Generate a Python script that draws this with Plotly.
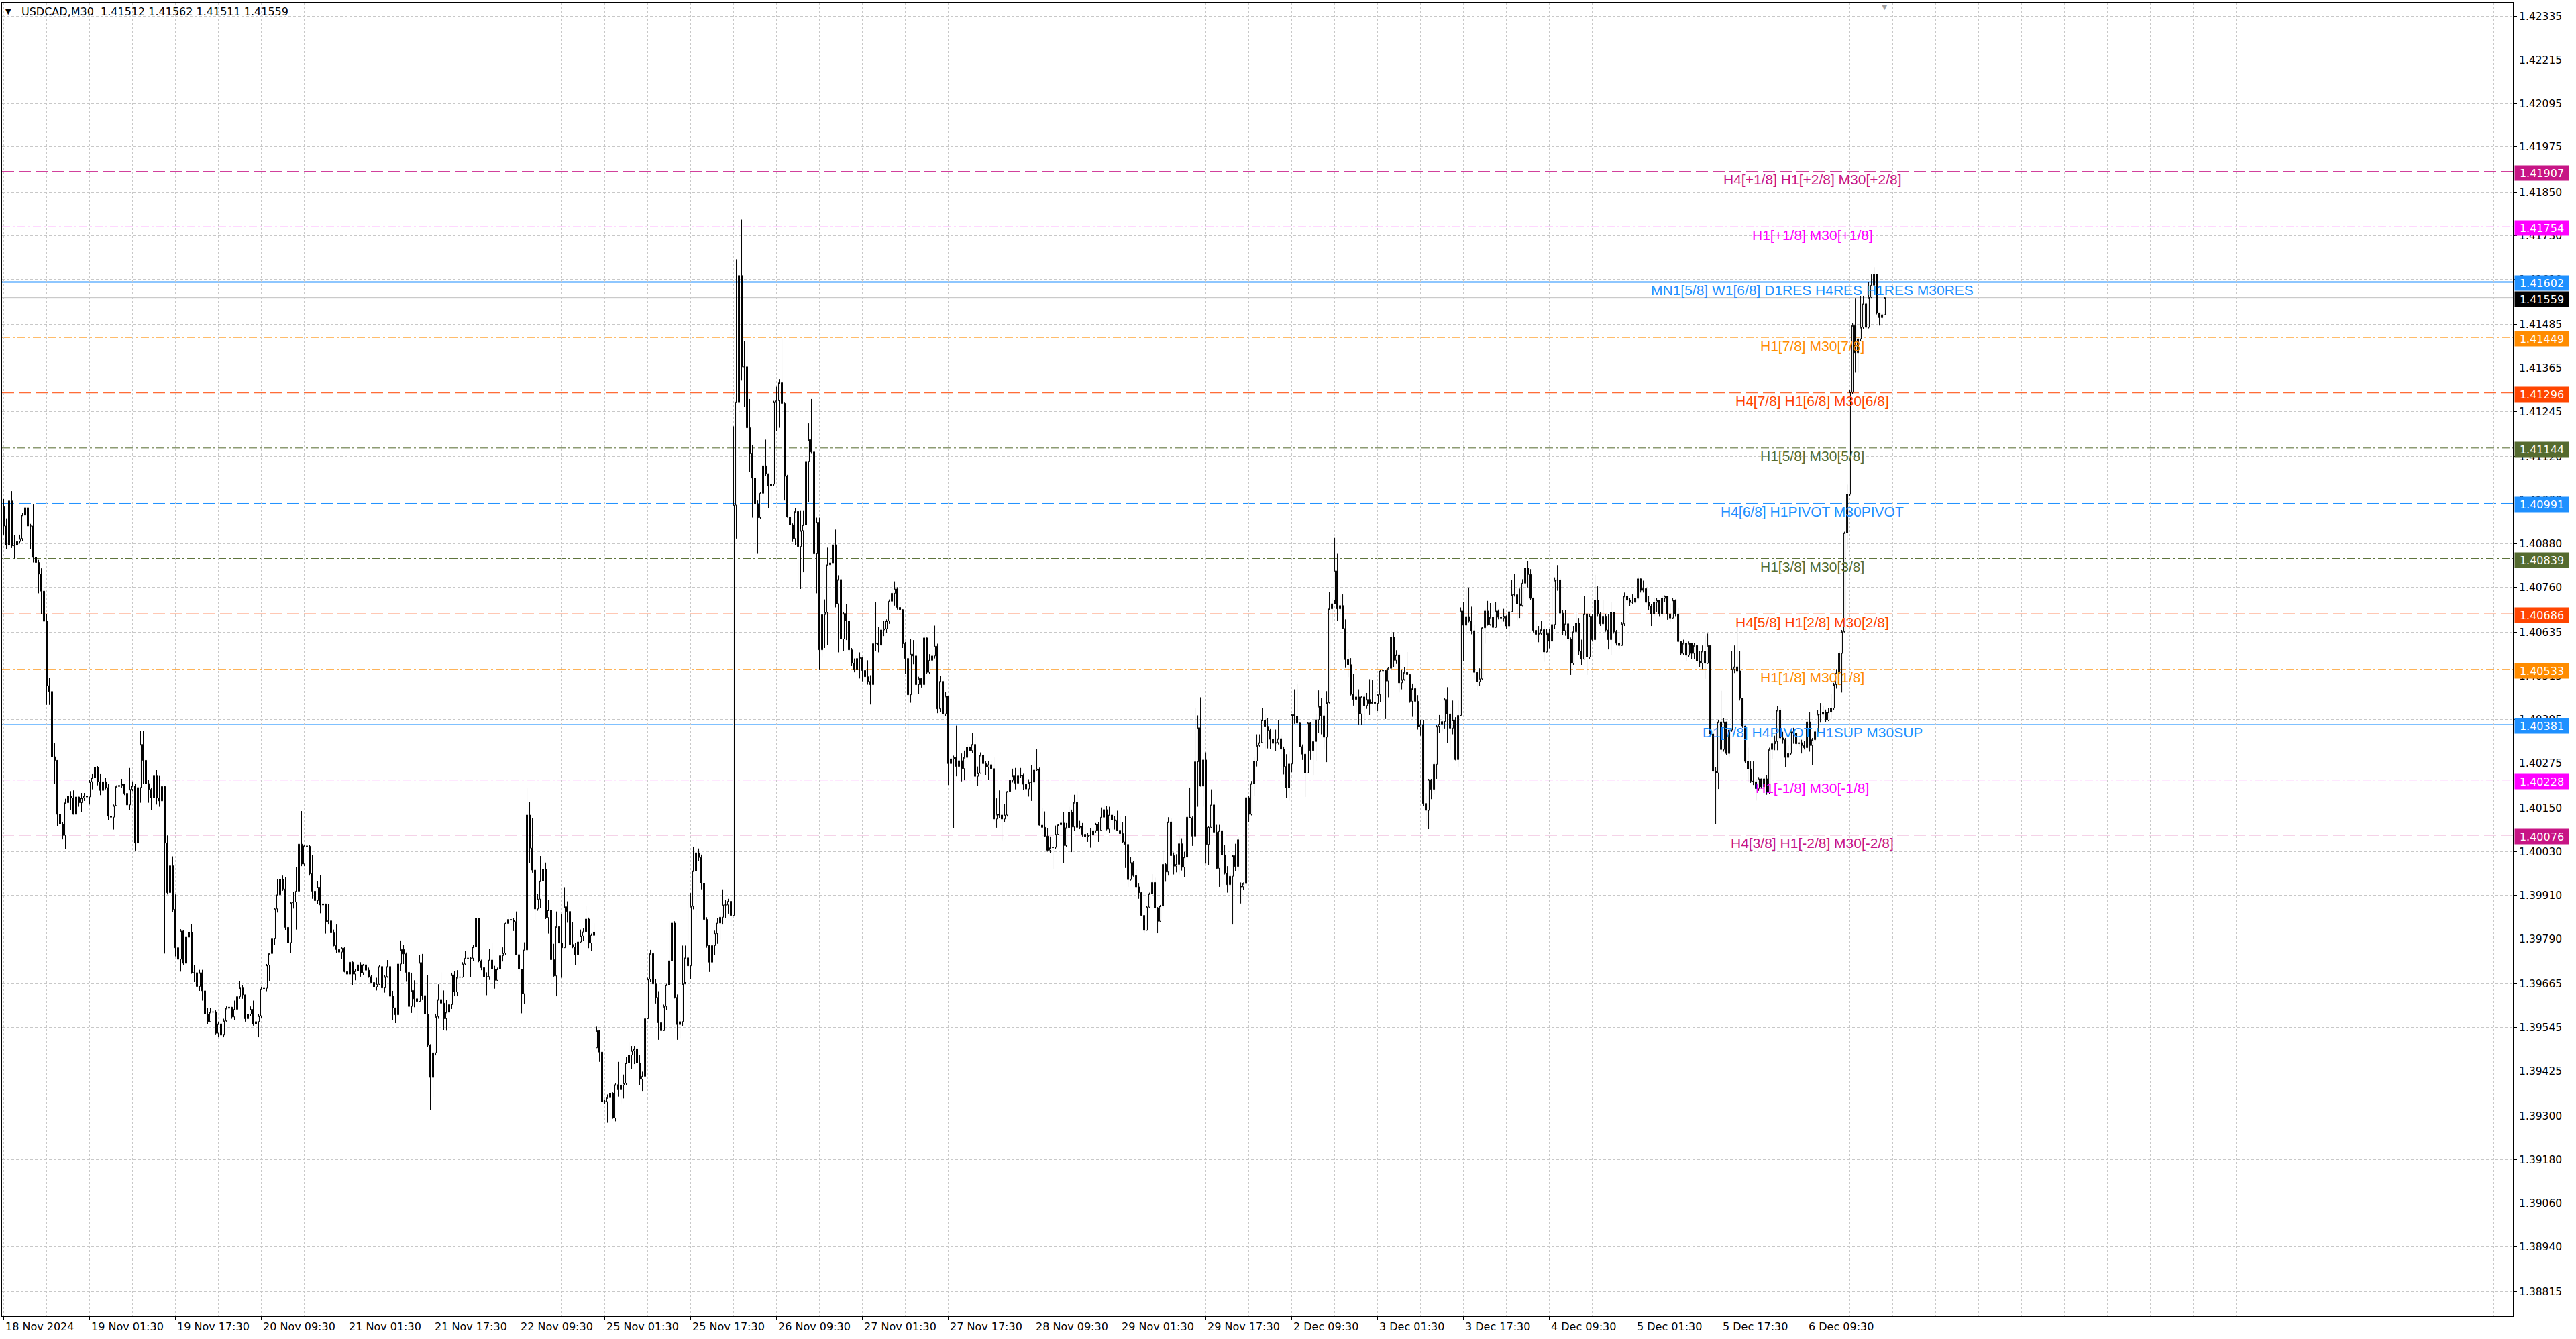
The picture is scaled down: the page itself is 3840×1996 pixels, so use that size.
import plotly.graph_objects as go

# USDCAD M30 candles, prices kept as points (1e-5) above BASE
BASE = 1.38
first_open = 2982
# monday opens after the weekend gaps
gap_opens = {221: 1489, 461: 1935}

closes = [
    2929, 2876, 2998, 2874, 2876, 2886, 2894, 2959, 2979, 2929, 2929, 2842, 2828, 2796, 2749, 2666,
    2488, 2472, 2292, 2282, 2133, 2106, 2075, 2165, 2183, 2178, 2133, 2181, 2165, 2178, 2183, 2181,
    2223, 2234, 2263, 2223, 2199, 2223, 2207, 2128, 2125, 2157, 2210, 2213, 2217, 2191, 2159, 2202,
    2211, 2054, 2207, 2326, 2282, 2218, 2202, 2179, 2239, 2178, 2170, 2210, 2054, 1917, 1991, 1871,
    1765, 1733, 1811, 1722, 1794, 1807, 1696, 1696, 1658, 1696, 1646, 1582, 1561, 1587, 1588, 1529,
    1555, 1524, 1563, 1598, 1601, 1574, 1595, 1630, 1654, 1635, 1569, 1582, 1595, 1555, 1561, 1577,
    1651, 1653, 1717, 1749, 1791, 1872, 1911, 1954, 1927, 1821, 1779, 1889, 1891, 1921, 2051, 1996,
    2046, 2045, 1969, 1921, 1895, 1932, 1883, 1886, 1837, 1839, 1806, 1771, 1760, 1753, 1764, 1699,
    1692, 1725, 1692, 1701, 1718, 1696, 1718, 1703, 1685, 1669, 1657, 1664, 1713, 1654, 1685, 1713,
    1631, 1599, 1580, 1720, 1760, 1748, 1697, 1603, 1647, 1624, 1617, 1724, 1633, 1582, 1496, 1407,
    1475, 1575, 1622, 1612, 1569, 1587, 1608, 1690, 1643, 1683, 1684, 1720, 1736, 1736, 1736, 1767,
    1846, 1729, 1710, 1685, 1685, 1731, 1706, 1675, 1706, 1743, 1750, 1832, 1843, 1841, 1837, 1746,
    1706, 1638, 1759, 2131, 2040, 1979, 1872, 1899, 1949, 1981, 1848, 1869, 1732, 1687, 1823, 1778,
    1765, 1878, 1865, 1774, 1767, 1746, 1781, 1797, 1809, 1844, 1778, 1799, 1808, 1536, 1477, 1340,
    1340, 1351, 1363, 1295, 1387, 1373, 1386, 1391, 1447, 1469, 1481, 1486, 1447, 1402, 1410, 1569,
    1678, 1749, 1665, 1628, 1558, 1536, 1603, 1662, 1729, 1833, 1628, 1553, 1561, 1665, 1737, 1715,
    1879, 1977, 2027, 2014, 1943, 1843, 1771, 1725, 1771, 1804, 1833, 1849, 1883, 1883, 1893, 1854,
    2986, 3271, 3620, 3368, 3368, 3200, 3128, 3061, 2989, 2952, 3019, 3095, 3073, 3039, 3044, 3271,
    3274, 3324, 3267, 3066, 2954, 2932, 2894, 2969, 2872, 2916, 2932, 3107, 3167, 3133, 2852, 2939,
    2587, 2684, 2690, 2822, 2827, 2877, 2714, 2781, 2617, 2687, 2667, 2587, 2550, 2533, 2563, 2565,
    2530, 2513, 2500, 2491, 2604, 2606, 2600, 2642, 2645, 2667, 2721, 2743, 2755, 2704, 2698, 2604,
    2563, 2463, 2575, 2570, 2491, 2508, 2491, 2620, 2525, 2558, 2570, 2597, 2424, 2500, 2410, 2459,
    2273, 2286, 2290, 2265, 2281, 2259, 2290, 2318, 2309, 2326, 2238, 2247, 2296, 2273, 2264, 2270,
    2259, 2120, 2133, 2131, 2120, 2131, 2196, 2227, 2239, 2219, 2239, 2240, 2216, 2203, 2221, 2222,
    2255, 2258, 2103, 2097, 2073, 2034, 2041, 2042, 2078, 2104, 2109, 2047, 2096, 2139, 2098, 2166,
    2097, 2100, 2078, 2072, 2075, 2076, 2088, 2106, 2089, 2125, 2146, 2092, 2131, 2118, 2115, 2089,
    2080, 2057, 2050, 1953, 2000, 1964, 1933, 1917, 1854, 1813, 1877, 1914, 1945, 1875, 1838, 1880,
    1995, 1974, 2112, 2019, 1990, 1995, 2052, 1987, 2015, 2125, 2123, 2073, 2278, 2372, 2211, 2283,
    2050, 2097, 2159, 2084, 1984, 2088, 2021, 1970, 1939, 1962, 2019, 1989, 2063, 1933, 1942, 2179,
    2133, 2218, 2280, 2323, 2331, 2393, 2376, 2365, 2340, 2329, 2331, 2342, 2313, 2265, 2206, 2272,
    2408, 2404, 2385, 2320, 2299, 2247, 2385, 2309, 2334, 2394, 2431, 2405, 2346, 2441, 2700, 2714,
    2805, 2700, 2709, 2646, 2560, 2546, 2464, 2450, 2457, 2410, 2457, 2433, 2450, 2439, 2443, 2439,
    2463, 2529, 2530, 2501, 2536, 2622, 2558, 2573, 2496, 2505, 2525, 2519, 2445, 2480, 2445, 2375,
    2381, 2163, 2144, 2229, 2202, 2271, 2376, 2382, 2389, 2450, 2410, 2371, 2393, 2284, 2406, 2694,
    2655, 2679, 2666, 2640, 2525, 2499, 2507, 2648, 2694, 2657, 2677, 2649, 2694, 2677, 2675, 2680,
    2653, 2692, 2739, 2739, 2714, 2709, 2771, 2813, 2795, 2729, 2641, 2630, 2632, 2643, 2581, 2632,
    2611, 2657, 2779, 2780, 2688, 2640, 2659, 2617, 2550, 2637, 2661, 2583, 2561, 2686, 2567, 2680,
    2615, 2724, 2686, 2659, 2680, 2642, 2615, 2691, 2637, 2605, 2599, 2659, 2735, 2724, 2718, 2718,
    2729, 2783, 2751, 2756, 2718, 2707, 2686, 2718, 2724, 2686, 2729, 2735, 2686, 2675, 2724, 2686,
    2610, 2577, 2605, 2572, 2605, 2577, 2599, 2556, 2550, 2583, 2550, 2599, 2355, 2252, 2247, 2388,
    2312, 2388, 2301, 2366, 2534, 2540, 2529, 2453, 2377, 2279, 2258, 2225, 2223, 2204, 2231, 2209,
    2231, 2193, 2312, 2328, 2334, 2420, 2344, 2339, 2290, 2301, 2361, 2357, 2328, 2331, 2323, 2317,
    2388, 2323, 2339, 2361, 2409, 2409, 2415, 2393, 2415, 2426, 2491, 2523, 2577, 2637, 2910, 3016,
    3298, 3482, 3407, 3445, 3477, 3542, 3477, 3560, 3593, 3623, 3517, 3504, 3512, 3559,
]

highs = [
    3003, 2950, 3025, 3025, 2903, 2895, 2905, 2965, 3014, 2988, 2935, 2988, 2865, 2835, 2812, 2749,
    2685, 2509, 2483, 2329, 2282, 2144, 2112, 2176, 2234, 2197, 2199, 2186, 2181, 2192, 2192, 2218,
    2229, 2244, 2292, 2266, 2244, 2239, 2234, 2218, 2154, 2160, 2213, 2234, 2231, 2218, 2207, 2261,
    2224, 2218, 2234, 2364, 2364, 2308, 2229, 2207, 2266, 2255, 2239, 2266, 2207, 2075, 1996, 2017,
    1912, 1768, 1816, 1813, 1802, 1857, 1831, 1717, 1707, 1704, 1704, 1639, 1598, 1598, 1592, 1592,
    1561, 1561, 1569, 1603, 1629, 1601, 1619, 1635, 1672, 1662, 1635, 1598, 1603, 1619, 1571, 1582,
    1656, 1656, 1720, 1751, 1805, 1874, 1954, 2001, 1964, 1959, 1826, 1891, 1919, 1987, 2059, 2142,
    2049, 2123, 2049, 2021, 1927, 1948, 1965, 1911, 1886, 1886, 1858, 1815, 1829, 1760, 1766, 1766,
    1725, 1727, 1727, 1706, 1729, 1725, 1720, 1739, 1710, 1689, 1675, 1682, 1717, 1713, 1689, 1731,
    1725, 1646, 1599, 1724, 1785, 1773, 1752, 1710, 1696, 1675, 1647, 1745, 1748, 1640, 1689, 1499,
    1478, 1583, 1664, 1697, 1647, 1620, 1626, 1696, 1701, 1703, 1696, 1725, 1757, 1741, 1739, 1773,
    1848, 1846, 1732, 1711, 1697, 1762, 1778, 1715, 1710, 1760, 1766, 1834, 1860, 1853, 1846, 1865,
    1752, 1706, 1780, 2207, 2168, 2123, 1981, 1913, 2018, 1997, 2000, 1897, 1865, 1776, 1865, 1825,
    1857, 1932, 1893, 1865, 1836, 1778, 1802, 1815, 1818, 1881, 1848, 1804, 1832, 1547, 1538, 1482,
    1346, 1360, 1401, 1366, 1391, 1450, 1396, 1415, 1464, 1503, 1494, 1494, 1494, 1469, 1423, 1594,
    1682, 1759, 1754, 1678, 1645, 1578, 1608, 1665, 1838, 1838, 1838, 1636, 1578, 1771, 1771, 1913,
    1916, 2044, 2072, 2039, 2022, 1947, 1849, 1771, 1787, 1812, 1846, 1863, 1926, 1896, 1900, 1900,
    3204, 3665, 3631, 3774, 3438, 3442, 3279, 3153, 3078, 2999, 3023, 3100, 3167, 3073, 3083, 3274,
    3313, 3334, 3447, 3271, 3070, 2969, 2936, 2977, 2977, 2972, 2972, 3112, 3212, 3279, 3190, 2952,
    2952, 2805, 2726, 2869, 2838, 2882, 2919, 2793, 2793, 2692, 2714, 2676, 2592, 2563, 2570, 2580,
    2558, 2547, 2558, 2517, 2620, 2718, 2651, 2667, 2667, 2671, 2726, 2765, 2776, 2760, 2718, 2698,
    2609, 2575, 2617, 2614, 2604, 2513, 2508, 2625, 2617, 2575, 2587, 2654, 2604, 2515, 2505, 2470,
    2459, 2292, 2295, 2378, 2331, 2301, 2309, 2327, 2320, 2357, 2348, 2265, 2304, 2299, 2279, 2281,
    2281, 2290, 2177, 2199, 2172, 2162, 2197, 2230, 2259, 2261, 2259, 2261, 2245, 2234, 2230, 2269,
    2281, 2314, 2262, 2151, 2141, 2094, 2072, 2060, 2102, 2106, 2127, 2139, 2109, 2154, 2146, 2187,
    2197, 2115, 2109, 2097, 2082, 2094, 2094, 2109, 2111, 2152, 2156, 2156, 2154, 2128, 2128, 2143,
    2127, 2111, 2128, 2075, 2016, 2004, 1982, 1942, 1919, 1854, 1880, 1917, 1968, 1958, 1877, 1883,
    2034, 1998, 2125, 2122, 2028, 2023, 2075, 2067, 2030, 2127, 2207, 2127, 2426, 2406, 2456, 2284,
    2304, 2100, 2202, 2168, 2104, 2104, 2088, 2049, 1990, 1973, 2021, 2052, 2071, 1945, 1945, 2181,
    2184, 2225, 2290, 2354, 2354, 2426, 2410, 2398, 2370, 2367, 2367, 2394, 2351, 2320, 2299, 2307,
    2410, 2478, 2494, 2385, 2326, 2302, 2388, 2388, 2394, 2410, 2475, 2453, 2439, 2473, 2747, 2728,
    2896, 2852, 2737, 2740, 2671, 2589, 2564, 2521, 2472, 2478, 2459, 2465, 2468, 2506, 2503, 2472,
    2465, 2531, 2533, 2529, 2540, 2641, 2636, 2586, 2577, 2533, 2540, 2581, 2521, 2494, 2487, 2462,
    2394, 2394, 2184, 2231, 2231, 2278, 2379, 2407, 2405, 2453, 2484, 2428, 2447, 2401, 2447, 2704,
    2719, 2759, 2759, 2706, 2657, 2533, 2536, 2651, 2700, 2722, 2716, 2714, 2719, 2698, 2682, 2700,
    2682, 2694, 2780, 2797, 2753, 2756, 2782, 2814, 2832, 2810, 2731, 2666, 2653, 2666, 2653, 2645,
    2645, 2762, 2787, 2821, 2784, 2696, 2696, 2675, 2621, 2653, 2691, 2675, 2615, 2735, 2691, 2686,
    2686, 2794, 2762, 2691, 2724, 2686, 2686, 2718, 2691, 2642, 2632, 2664, 2745, 2740, 2729, 2740,
    2735, 2789, 2783, 2778, 2756, 2735, 2713, 2729, 2729, 2724, 2735, 2737, 2735, 2715, 2729, 2726,
    2702, 2610, 2615, 2610, 2610, 2605, 2605, 2599, 2583, 2599, 2626, 2632, 2599, 2372, 2263, 2393,
    2474, 2399, 2388, 2372, 2583, 2599, 2664, 2583, 2453, 2377, 2317, 2279, 2279, 2231, 2236, 2231,
    2236, 2241, 2317, 2334, 2350, 2431, 2426, 2361, 2344, 2323, 2366, 2372, 2357, 2342, 2339, 2336,
    2393, 2415, 2344, 2368, 2420, 2440, 2431, 2422, 2426, 2464, 2496, 2534, 2583, 2642, 2913, 3043,
    3304, 3488, 3558, 3450, 3564, 3564, 3547, 3602, 3623, 3643, 3621, 3517, 3515, 3562,
]

lows = [
    2905, 2866, 2870, 2868, 2839, 2870, 2880, 2888, 2955, 2892, 2865, 2828, 2780, 2743, 2685, 2600,
    2435, 2435, 2282, 2218, 2101, 2101, 2064, 2038, 2159, 2144, 2133, 2114, 2154, 2139, 2170, 2176,
    2160, 2202, 2229, 2213, 2186, 2160, 2202, 2117, 2107, 2091, 2155, 2199, 2207, 2186, 2139, 2144,
    2197, 2033, 2054, 2165, 2218, 2197, 2165, 2144, 2170, 2160, 2154, 2165, 1749, 1912, 1900, 1863,
    1741, 1683, 1699, 1717, 1696, 1789, 1693, 1670, 1646, 1646, 1619, 1561, 1555, 1561, 1582, 1524,
    1518, 1508, 1518, 1561, 1582, 1569, 1566, 1587, 1624, 1624, 1561, 1561, 1577, 1550, 1508, 1518,
    1571, 1624, 1645, 1672, 1730, 1773, 1862, 1900, 1922, 1813, 1762, 1751, 1873, 1815, 1912, 1990,
    1990, 2028, 1964, 1900, 1832, 1885, 1860, 1867, 1804, 1829, 1804, 1769, 1750, 1736, 1734, 1697,
    1683, 1671, 1661, 1675, 1675, 1685, 1689, 1699, 1682, 1666, 1650, 1647, 1661, 1634, 1641, 1682,
    1615, 1566, 1557, 1580, 1701, 1720, 1671, 1592, 1585, 1601, 1552, 1615, 1622, 1562, 1492, 1317,
    1352, 1468, 1569, 1576, 1538, 1536, 1550, 1596, 1631, 1631, 1671, 1682, 1718, 1706, 1683, 1729,
    1745, 1725, 1703, 1657, 1634, 1676, 1696, 1652, 1673, 1704, 1727, 1746, 1816, 1822, 1811, 1745,
    1694, 1584, 1610, 1759, 1998, 1972, 1841, 1867, 1874, 1923, 1844, 1804, 1673, 1685, 1631, 1722,
    1682, 1765, 1834, 1767, 1764, 1718, 1713, 1778, 1783, 1804, 1764, 1757, 1797, 1489, 1450, 1337,
    1334, 1282, 1303, 1293, 1286, 1354, 1335, 1349, 1386, 1427, 1430, 1444, 1436, 1385, 1368, 1402,
    1569, 1670, 1641, 1611, 1511, 1531, 1536, 1594, 1653, 1720, 1625, 1511, 1514, 1548, 1670, 1695,
    1678, 1871, 1846, 2005, 1926, 1833, 1765, 1698, 1729, 1745, 1776, 1787, 1829, 1846, 1859, 1821,
    1854, 2894, 3095, 3330, 3257, 3153, 3078, 2952, 2986, 2852, 2949, 2989, 3066, 2977, 2986, 3039,
    3190, 3200, 3237, 2999, 2952, 2882, 2885, 2877, 2765, 2755, 2801, 2919, 2994, 3128, 2843, 2743,
    2533, 2567, 2592, 2600, 2709, 2801, 2704, 2580, 2614, 2583, 2614, 2575, 2542, 2525, 2517, 2508,
    2500, 2496, 2491, 2436, 2486, 2583, 2580, 2597, 2625, 2634, 2659, 2714, 2709, 2698, 2676, 2592,
    2520, 2340, 2441, 2547, 2486, 2466, 2483, 2483, 2520, 2520, 2533, 2563, 2412, 2415, 2400, 2405,
    2214, 2240, 2094, 2238, 2245, 2224, 2227, 2284, 2307, 2302, 2234, 2211, 2245, 2264, 2242, 2228,
    2257, 2115, 2096, 2122, 2061, 2112, 2127, 2195, 2221, 2202, 2218, 2233, 2201, 2202, 2182, 2170,
    2214, 2253, 2102, 2080, 2071, 2030, 2027, 1982, 2038, 2077, 2097, 1998, 2044, 2092, 2029, 2088,
    2089, 2092, 2072, 2067, 2057, 2041, 2073, 2083, 2057, 2089, 2122, 2089, 2081, 2091, 2091, 2088,
    2060, 2055, 1985, 1933, 1950, 1961, 1931, 1900, 1852, 1805, 1812, 1874, 1910, 1871, 1805, 1836,
    1875, 1947, 1964, 1992, 1967, 1973, 1967, 1978, 1959, 2013, 2122, 2046, 2073, 2154, 2210, 2154,
    1997, 1993, 2096, 2080, 1984, 1933, 2003, 1967, 1917, 1925, 1829, 1976, 1976, 1887, 1925, 1935,
    2112, 2130, 2184, 2265, 2320, 2329, 2314, 2315, 2314, 2326, 2308, 2326, 2255, 2243, 2179, 2171,
    2249, 2383, 2379, 2319, 2283, 2181, 2246, 2283, 2240, 2280, 2357, 2354, 2314, 2277, 2439, 2663,
    2725, 2666, 2682, 2645, 2537, 2512, 2461, 2433, 2416, 2381, 2381, 2382, 2424, 2407, 2438, 2419,
    2418, 2443, 2444, 2396, 2456, 2530, 2540, 2548, 2469, 2478, 2502, 2518, 2441, 2402, 2404, 2367,
    2350, 2155, 2101, 2092, 2175, 2190, 2231, 2357, 2362, 2370, 2330, 2311, 2354, 2282, 2263, 2406,
    2555, 2629, 2663, 2630, 2506, 2476, 2487, 2503, 2604, 2654, 2654, 2643, 2651, 2671, 2663, 2665,
    2645, 2614, 2691, 2734, 2669, 2675, 2706, 2764, 2759, 2725, 2635, 2617, 2608, 2629, 2554, 2580,
    2591, 2611, 2645, 2750, 2648, 2629, 2626, 2611, 2518, 2545, 2615, 2572, 2545, 2561, 2518, 2561,
    2610, 2613, 2680, 2653, 2653, 2637, 2588, 2572, 2632, 2599, 2588, 2599, 2653, 2713, 2707, 2713,
    2715, 2724, 2745, 2745, 2713, 2697, 2653, 2680, 2691, 2680, 2680, 2718, 2670, 2664, 2672, 2680,
    2605, 2572, 2572, 2556, 2567, 2561, 2561, 2550, 2540, 2534, 2507, 2548, 2350, 2247, 2106, 2203,
    2301, 2306, 2296, 2290, 2361, 2523, 2523, 2447, 2372, 2274, 2223, 2220, 2214, 2171, 2198, 2204,
    2193, 2187, 2190, 2285, 2310, 2310, 2339, 2328, 2263, 2290, 2296, 2328, 2323, 2320, 2301, 2312,
    2314, 2306, 2269, 2334, 2355, 2386, 2399, 2388, 2390, 2396, 2420, 2480, 2487, 2469, 2635, 2865,
    3011, 3293, 3352, 3352, 3439, 3472, 3472, 3474, 3558, 3585, 3513, 3482, 3499, 3511,
]

# time axis labels, one every 32 bars (16 hours)
x_labels = [
    "18 Nov 2024", "19 Nov 01:30", "19 Nov 17:30", "20 Nov 09:30", "21 Nov 01:30", "21 Nov 17:30",
    "22 Nov 09:30", "25 Nov 01:30", "25 Nov 17:30", "26 Nov 09:30", "27 Nov 01:30", "27 Nov 17:30",
    "28 Nov 09:30", "29 Nov 01:30", "29 Nov 17:30", "2 Dec 09:30", "3 Dec 01:30", "3 Dec 17:30",
    "4 Dec 09:30", "5 Dec 01:30", "5 Dec 17:30", "6 Dec 09:30",
]

y_ticks = [
    1.42335, 1.42215, 1.42095, 1.41975, 1.41850, 1.41730, 1.41610, 1.41485, 1.41365, 1.41245,
    1.41120, 1.41000, 1.40880, 1.40760, 1.40635, 1.40515, 1.40395, 1.40275, 1.40150, 1.40030,
    1.39910, 1.39790, 1.39665, 1.39545, 1.39425, 1.39300, 1.39180, 1.39060, 1.38940, 1.38815,
]

# murrey math levels drawn by the indicator
levels = [1.41907, 1.41754, 1.41602, 1.41449, 1.41296, 1.41144, 1.40991,
          1.40839, 1.40686, 1.40533, 1.40381, 1.40228, 1.40076]
level_names = [
    "H4[+1/8] H1[+2/8] M30[+2/8]",
    "H1[+1/8] M30[+1/8]",
    "MN1[5/8] W1[6/8] D1RES H4RES H1RES M30RES",
    "H1[7/8] M30[7/8]",
    "H4[7/8] H1[6/8] M30[6/8]",
    "H1[5/8] M30[5/8]",
    "H4[6/8] H1PIVOT M30PIVOT",
    "H1[3/8] M30[3/8]",
    "H4[5/8] H1[2/8] M30[2/8]",
    "H1[1/8] M30[1/8]",
    "D1[7/8] H4PIVOT H1SUP M30SUP",
    "H1[-1/8] M30[-1/8]",
    "H4[3/8] H1[-2/8] M30[-2/8]",
]
last_price = 1.41559
title_text = "USDCAD,M30  1.41512 1.41562 1.41511 1.41559"

# styles
VIOLET, MAGENTA, BLUE = "#C71585", "#FF00FF", "#1E90FF"
ORANGE, RED, OLIVE = "#FF8C00", "#FF4500", "#556B2F"
LONG = "18px,7px"
DOTDASH = "12px,4px,3px,4px"
level_colors = [VIOLET, MAGENTA, BLUE, ORANGE, RED, OLIVE, BLUE, OLIVE, RED, ORANGE, BLUE, MAGENTA, VIOLET]
level_dash = [LONG, DOTDASH, "solid", DOTDASH, LONG, DOTDASH, LONG, DOTDASH, LONG, DOTDASH, "solid", DOTDASH, LONG]
level_width = [1, 1, 2, 1, 1, 1, 1, 1, 1, 1, 1, 1, 1]
LABEL_BAR = 674
AXIS_FONT = "DejaVu Sans"

# each M30 bar opens where the previous one closed, except after weekends
opens = []
prev = first_open
for i, c in enumerate(closes):
    opens.append(gap_opens.get(i, prev))
    prev = c


def to_price(vals):
    return [round(BASE + v / 1e5, 5) for v in vals]


bars = list(range(len(closes)))

fig = go.Figure(go.Candlestick(
    x=bars,
    open=to_price(opens), high=to_price(highs), low=to_price(lows), close=to_price(closes),
    increasing=dict(line=dict(color="black", width=1), fillcolor="white"),
    decreasing=dict(line=dict(color="black", width=1), fillcolor="black"),
    whiskerwidth=0,
    hoverinfo="skip",
))

# current price line
fig.add_shape(type="line", xref="paper", x0=0, x1=1, yref="y", y0=last_price, y1=last_price,
              line=dict(color="#C0C0C0", width=1), layer="below")

for lv, name, col, dash, w in zip(levels, level_names, level_colors, level_dash, level_width):
    fig.add_shape(type="line", xref="paper", x0=0, x1=1, yref="y", y0=lv, y1=lv,
                  line=dict(color=col, width=w, dash=dash), layer="below")
    fig.add_annotation(x=LABEL_BAR, y=lv, xref="x", yref="y", text=name, showarrow=False,
                       xanchor="center", yanchor="middle", yshift=-12,
                       font=dict(family="Liberation Sans", size=21, color=col))
    fig.add_annotation(x=1, y=lv, xref="paper", yref="y", text=f"{lv:.5f}", showarrow=False,
                       xanchor="left", yanchor="middle", xshift=2, yshift=-2, width=78, height=20,
                       borderpad=1, bgcolor=col, align="center",
                       font=dict(family=AXIS_FONT, size=16, color="white"))

fig.add_annotation(x=1, y=last_price, xref="paper", yref="y", text=f"{last_price:.5f}",
                   showarrow=False, xanchor="left", yanchor="middle", xshift=2, yshift=-2,
                   width=78, height=20, borderpad=1, bgcolor="black", align="center",
                   font=dict(family=AXIS_FONT, size=16, color="white"))

# date labels start at their tick like in the terminal
for k, lab in enumerate(x_labels):
    fig.add_annotation(x=32 * k, y=0, xref="x", yref="paper", text=lab, showarrow=False,
                       xanchor="left", yanchor="top", yshift=-4,
                       font=dict(family=AXIS_FONT, size=16, color="black"))

fig.add_annotation(x=0, y=1, xref="paper", yref="paper", text="▼", showarrow=False,
                   xanchor="left", yanchor="middle", xshift=3, yshift=-13,
                   font=dict(family=AXIS_FONT, size=11, color="black"))
fig.add_annotation(x=0, y=1, xref="paper", yref="paper", text=title_text, showarrow=False,
                   xanchor="left", yanchor="middle", xshift=27, yshift=-13,
                   font=dict(family=AXIS_FONT, size=16, color="black"))
# chart shift marker
fig.add_annotation(x=len(closes) - 1, y=1, xref="x", yref="paper", text="▼", showarrow=False,
                   xanchor="center", yanchor="top", yshift=2,
                   font=dict(family=AXIS_FONT, size=11, color="#A0A0A0"))

fig.update_xaxes(
    range=[-0.625, 935.1], rangeslider_visible=False, zeroline=False,
    tickmode="array", tickvals=[32 * k for k in range(len(x_labels))],
    ticktext=[""] * len(x_labels), ticks="outside", ticklen=5, tickcolor="black",
    showgrid=True, gridcolor="#C8C8C8", griddash="3px,3px", gridwidth=1,
    minor=dict(tickmode="linear", tick0=0, dtick=16, showgrid=True, gridcolor="#C8C8C8",
               griddash="3px,3px", ticks=""),
    showline=True, linecolor="black", linewidth=1, mirror=True,
)
fig.update_yaxes(
    side="right", range=[1.38748, 1.42373], zeroline=False,
    tickmode="array", tickvals=y_ticks, ticktext=[f"{v:.5f}" for v in y_ticks],
    ticks="outside", ticklen=5, tickcolor="black",
    tickfont=dict(family=AXIS_FONT, size=15.5, color="black"),
    showgrid=True, gridcolor="#C8C8C8", griddash="4px,3px", gridwidth=1,
    showline=True, linecolor="black", linewidth=1, mirror=True,
)
fig.update_layout(
    width=3840, height=1996, autosize=False,
    margin=dict(l=3, r=94, t=4, b=34),
    plot_bgcolor="white", paper_bgcolor="white",
    showlegend=False,
)

fig.write_html("out.html", config={"displayModeBar": False},
               post_script="document.body.style.margin='0';document.body.style.overflow='hidden';")
